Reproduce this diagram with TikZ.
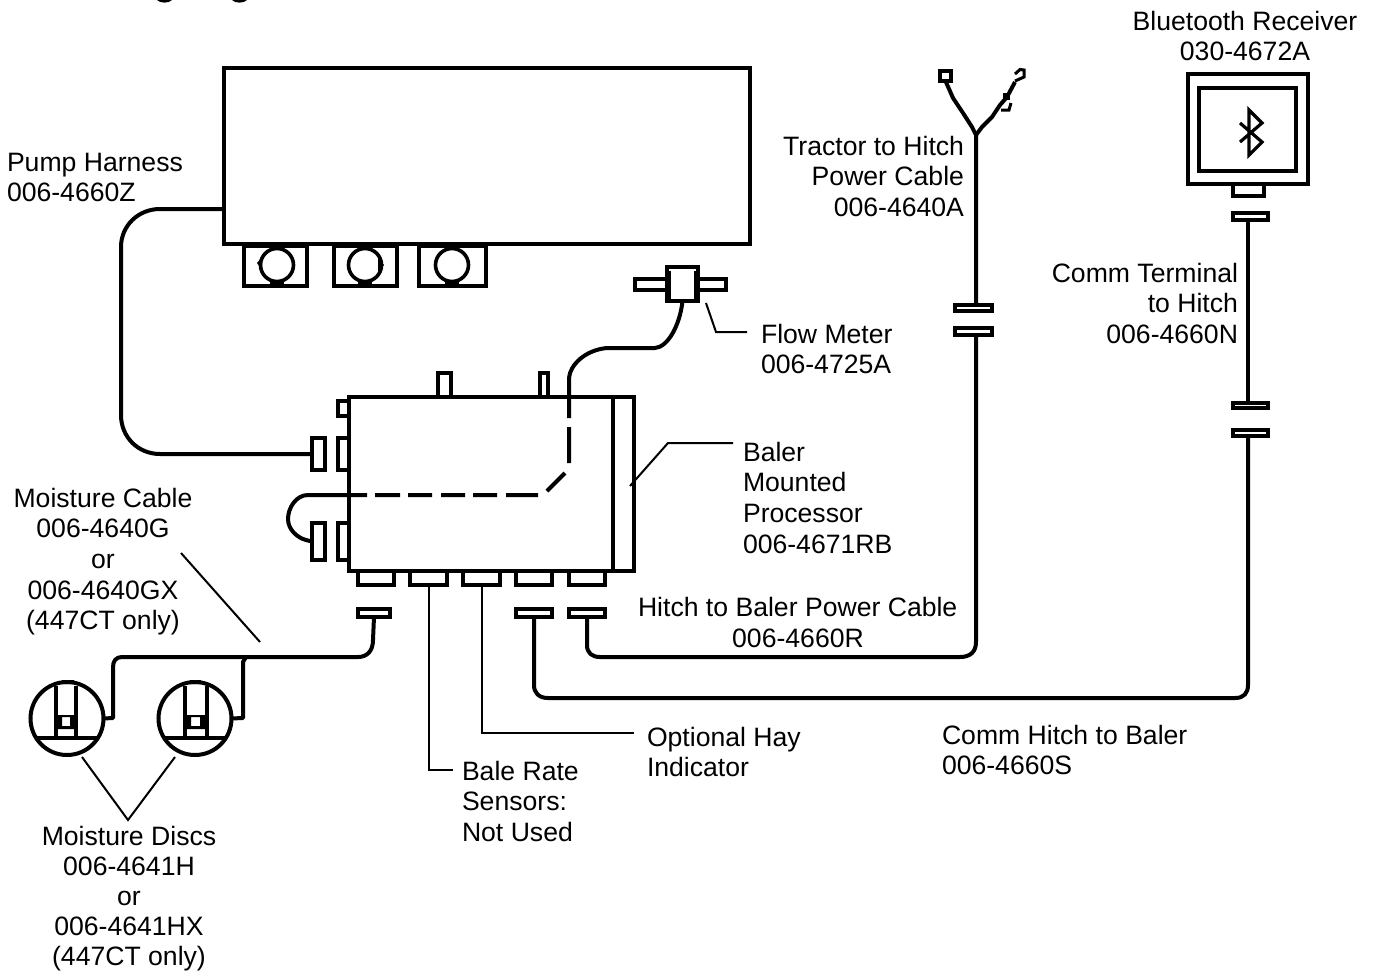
\documentclass[tikz,border=0pt]{standalone}
\usepackage{fontspec}
\setmainfont{Liberation Sans}
\newcommand{\lblfont}{\fontsize{26.6}{30.6}\selectfont}
\tikzset{
  bx/.style={draw=black,fill=white,line width=4pt,rectangle,inner sep=0pt,outer sep=0pt},
  cable/.style={line width=4pt,line join=round},
  lead/.style={line width=2pt,line join=miter},
  disc/.style={draw=black,fill=white,line width=4pt,circle,inner sep=0pt,outer sep=0pt,minimum size=73pt},
  vbore/.style={circle,draw,line width=3.6pt,minimum size=33pt,inner sep=0pt},
  lbl/.style={inner sep=0pt,outer sep=0pt,font=\lblfont,execute at begin node={\rule{0pt}{19pt}}},
}
\begin{document}
\begin{tikzpicture}[x=1pt,y=-1pt]
\useasboundingbox (0,0) rectangle (1374,972);
% descenders of the cropped title
\fill (157,0) .. controls (160,3.5) and (169,3.5) .. (172,0) -- cycle;
\fill (232,0) .. controls (235,3.5) and (244,3.5) .. (247,0) -- cycle;

% ---------- pump unit
\node[bx,minimum width=63pt,minimum height=40pt] (pv1) at (275.5,266) {};
\node[bx,minimum width=63pt,minimum height=40pt] (pv2) at (365.5,266) {};
\node[bx,minimum width=67pt,minimum height=40pt] (pv3) at (452.5,266) {};
\node[bx,minimum width=526pt,minimum height=176pt] (pump) at (487,156) {};
\node[vbore] (pc1) at (277,265) {};
\node[vbore] (pc2) at (365,265) {};
\node[vbore] (pc3) at (452,265) {};
\fill (257,263) -- (262,257) -- (262,270) -- cycle;
\fill (384,265) -- (378,258) -- (378,272) -- cycle;
\foreach \x in {277,365,452}{\fill (\x-7,281) rectangle (\x+7,286);\fill (\x-5,246) rectangle (\x+5,250);}

% ---------- flow meter
\node[bx,minimum width=32pt,minimum height=11pt] (fl) at (651,284.5) {};
\node[bx,minimum width=28pt,minimum height=11pt] (fr) at (712,284.5) {};
\node[bx,minimum width=31pt,minimum height=34pt] (flow) at (682.5,284) {};
\draw[line width=6pt] (668,271) -- (668,299) (697,271) -- (697,299);

% ---------- processor
\node[bx,minimum width=13pt,minimum height=24pt] (ts1) at (444.5,385) {};
\node[bx,minimum width=8pt,minimum height=24pt] (ts2) at (544,385) {};
\node[bx,minimum width=11pt,minimum height=15pt] (ls1) at (343.5,408.5) {};
\node[bx,minimum width=11pt,minimum height=32pt] (ls2) at (343.5,454) {};
\node[bx,minimum width=11pt,minimum height=37pt] (ls3) at (343.5,541.5) {};
\node[bx,minimum width=13pt,minimum height=32pt] (lp2) at (318.5,454) {};
\node[bx,minimum width=13pt,minimum height=37pt] (lp3) at (318.5,541.5) {};
\node[bx,minimum width=36pt,minimum height=14pt] (bs1) at (376,578) {};
\node[bx,minimum width=37pt,minimum height=14pt] (bs2) at (428.5,578) {};
\node[bx,minimum width=37pt,minimum height=14pt] (bs3) at (481.5,578) {};
\node[bx,minimum width=36pt,minimum height=14pt] (bs4) at (534,578) {};
\node[bx,minimum width=36pt,minimum height=14pt] (bs5) at (587,578) {};
\node[bx,minimum width=285pt,minimum height=174pt] (proc) at (491.5,484) {};
\node[bx,minimum width=21pt,minimum height=174pt] (procside) at (623.5,484) {};
\node[bx,minimum width=32pt,minimum height=8pt] (bp1) at (374,613) {};
\node[bx,minimum width=36pt,minimum height=8pt] (bp4) at (534,613) {};
\node[bx,minimum width=36pt,minimum height=8pt] (bp5) at (587,613) {};

% ---------- moisture discs
\node[disc] (d1) at (67,718.5) {};
\node[disc] (d2) at (195,718.5) {};
\draw[line width=3.6pt] (35,738) -- (99,738) (56,686) -- (56,738) (76,686) -- (76,738);
\draw[line width=3.6pt] (163,738) -- (227,738) (185,686) -- (185,738) (207,686) -- (207,738);
\fill[even odd rule] (56,715) rectangle (76,729) (62,717) rectangle (70,726);
\fill[even odd rule] (185,715) rectangle (207,729) (191,717) rectangle (200,726);
\fill (62,680) rectangle (74,684) (190,680) rectangle (201,684);

% ---------- tractor to hitch cable
\node[bx,minimum width=11pt,minimum height=10pt] (sq) at (945.5,76) {};
\node[bx,minimum width=37pt,minimum height=6pt] (tp1) at (973.5,307.5) {};
\node[bx,minimum width=37pt,minimum height=7pt] (tp2) at (973.5,331.5) {};
\coordinate (yj) at (976,135);
\coordinate (tt) at (976,305);
\coordinate (tb) at (976,335);
\draw[cable] (sq.south) -- (953,98) -- (963,113) -- (972,127) -- (yj) -- (tt);
\draw[cable] (yj) -- (982,127) -- (992,117) -- (1000,105) -- (1007,97) -- (1015,82);
\fill (1003,93) rectangle (1010,100);
\draw[line width=3pt] (1001,110) -- (1009,110) -- (1011,103);
\draw[line width=3pt] (1015,74) -- (1020,69.5) -- (1024,70) -- (1024,77) -- (1015,81);
\draw[cable] (bp5.south) -- (587,645) .. controls (587,653) and (592,657) .. (600,657)
  -- (960,657) .. controls (970,657) and (976,652) .. (976,642) -- (tb);

% ---------- bluetooth receiver
\node[bx,minimum width=31pt,minimum height=12pt] (bts) at (1248.5,190) {};
\node[bx,minimum width=120pt,minimum height=110pt] (bto) at (1248,129) {};
\node[bx,minimum width=97pt,minimum height=83pt] (bti) at (1247.5,129.5) {};
\draw[line width=3.2pt,line join=miter] (1240,123) -- (1262,142) -- (1249,155) -- (1249,110) -- (1262,123) -- (1240,142);
\node[bx,minimum width=35pt,minimum height=7pt] (cp1) at (1250.5,216.5) {};
\node[bx,minimum width=35pt,minimum height=5pt] (cp2) at (1250.5,405.5) {};
\node[bx,minimum width=35pt,minimum height=6pt] (cp3) at (1250.5,433) {};
\coordinate (ct) at (1248,220);
\coordinate (cb) at (1248,403);
\coordinate (cc) at (1248,436);
\draw[cable] (ct) -- (cb);
\draw[cable] (bp4.south) -- (534,685) .. controls (534,693) and (539,698) .. (548,698)
  -- (1235,698) .. controls (1244,698) and (1248,693) .. (1248,685) -- (cc);

% ---------- other cables
\coordinate (ph) at (224,209);
\draw[cable] (ph) -- (160,209) .. controls (138,209) and (121,226) .. (121,247)
  -- (121,415) .. controls (121,437) and (138,454) .. (160,454) -- (lp2.west);
\draw[cable] (bp1.south) -- (373,640) .. controls (373,651) and (367,657) .. (358,657)
  -- (122,657) .. controls (116,657) and (113,661) .. (113,667) -- (113,718) -- (d1.east);
\coordinate (mj) at (246,657);
\draw[cable] (mj) -- (243,662) -- (243,718) -- (d2.east);
\draw[cable] (lp3.west) -- (306,540) .. controls (298,538) and (288,530) .. (288,519)
  .. controls (288,508) and (296,495) .. (308,495) -- (367,495)
  (375,495) -- (400,495) (408,495) -- (432,495) (441,495) -- (465,495)
  (473,495) -- (497,495) (506,495) -- (538,495)
  (547,491) -- (565,473)
  (569,463) -- (569,427)
  (569,418) -- (569,378) .. controls (570,365) and (585,350) .. (607,348)
  -- (655,348) .. controls (668,347) and (680,325) .. (flow.south);

% ---------- leaders
\coordinate (fm1) at (706,303);
\coordinate (fm2) at (747,332);
\draw[lead] (fm1) -- (716,332) -- (fm2);
\coordinate (ba1) at (630,486);
\coordinate (ba2) at (733,443);
\draw[lead] (ba1) -- (668,443) -- (ba2);
\coordinate (br) at (453,770);
\draw[lead] (bs2.south) -- (428.5,770) -- (br);
\coordinate (oh) at (634,733);
\draw[lead] (bs3.south) -- (481.5,733) -- (oh);
\coordinate (mc1) at (181,553);
\coordinate (mc2) at (260,642);
\draw[lead] (mc1) -- (mc2);
\coordinate (mv) at (128,820);
\draw[lead] (82,757) -- (mv) -- (175,757);

% ---------- labels
\node[lbl,align=center,anchor=north] (t1) at (1245,11) {Bluetooth Receiver\\030-4672A};
\node[lbl,align=left,anchor=north west] (t2) at (7,153) {Pump Harness\\006-4660Z};
\node[lbl,align=right,anchor=north east] (t3) at (964,136) {Tractor to Hitch\\Power Cable\\006-4640A};
\node[lbl,align=right,anchor=north east] (t4) at (1238,263) {Comm Terminal\\to Hitch\\006-4660N};
\node[lbl,align=left,anchor=north west] (t5) at (761,324) {Flow Meter\\006-4725A};
\node[lbl,align=left,anchor=north west] (t6) at (743,442) {Baler\\Mounted\\Processor\\006-4671RB};
\node[lbl,align=center,anchor=north] (t7) at (103,488) {Moisture Cable\\006-4640G\\or\\006-4640GX\\(447CT only)};
\node[lbl,anchor=north west] (t8) at (638,597) {Hitch to Baler Power Cable};
\node[lbl,anchor=north] (t9) at (798,628) {006-4660R};
\node[lbl,align=left,anchor=north west] (t10) at (647,727) {Optional Hay\\Indicator};
\node[lbl,align=left,anchor=north west] (t11) at (942,725) {Comm Hitch to Baler\\006-4660S};
\node[lbl,align=left,anchor=north west] (t12) at (462,761) {Bale Rate\\Sensors:\\Not Used};
\node[lbl,align=center,anchor=north,font=\fontsize{26.6}{30}\selectfont] (t13) at (129,826) {Moisture Discs\\006-4641H\\or\\006-4641HX\\(447CT only)};
\end{tikzpicture}
\end{document}
